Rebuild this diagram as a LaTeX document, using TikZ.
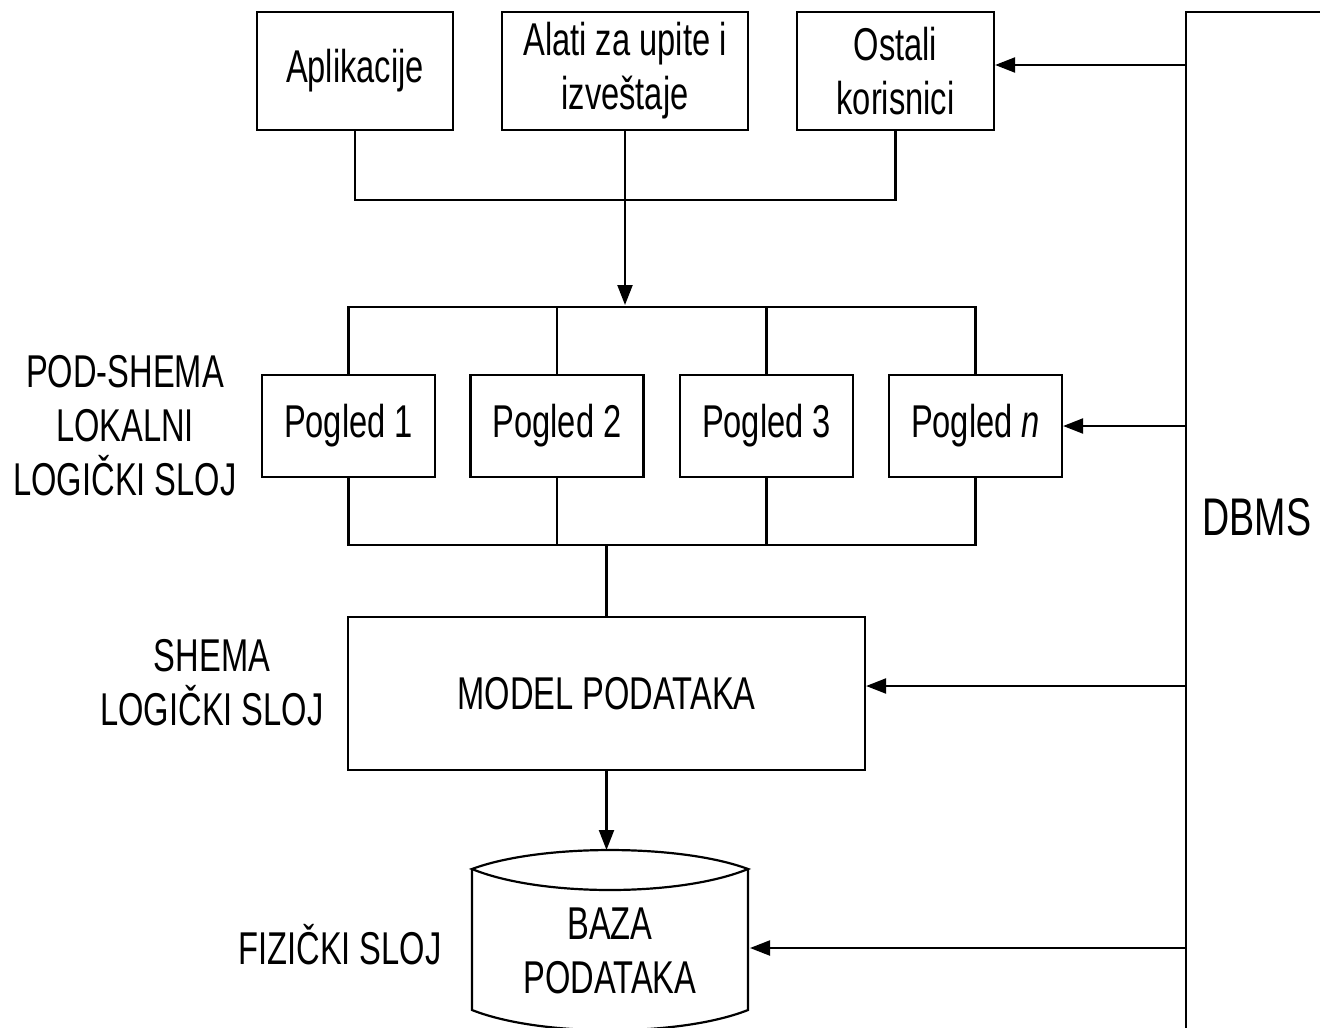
\documentclass[tikz,border=0pt]{standalone}
\usepackage{fontspec}
\setmainfont{Liberation Sans}[FakeStretch=0.71]
\usetikzlibrary{arrows.meta}
\begin{document}
\begin{tikzpicture}[x=1pt,y=-1pt,
  font=\fontsize{46}{54}\selectfont,
  line width=2.2pt,
  box/.style={draw, rectangle, inner sep=0pt, align=center},
  arr/.style={-{Triangle[length=20pt,width=15pt]}},
  lbl/.style={align=center, inner sep=0pt}]
\useasboundingbox (0,0) rectangle (1320,1028);
\clip (0,0) rectangle (1320,1028);

% top boxes
\node[box, minimum width=196pt, minimum height=118pt] (apl) at (355,71) {Aplikacije};
\node[box, minimum width=246pt, minimum height=118pt] (alati) at (625,71) {Alati za upite i\\izveštaje};
\node[box, minimum width=197pt, minimum height=118pt] (ost) at (895.5,71) {Ostali\\korisnici};

% views
\node[box, minimum width=173pt, minimum height=102pt] (p1) at (348.5,426) {Pogled 1};
\node[box, minimum width=173pt, minimum height=102pt] (p2) at (557,426) {Pogled 2};
\node[box, minimum width=173pt, minimum height=102pt] (p3) at (766.5,426) {Pogled 3};
\node[box, minimum width=173pt, minimum height=102pt] (pn) at (975.5,426) {Pogled \textit{n}};

% model
\node[box, minimum width=517pt, minimum height=153pt] (model) at (606.5,693.5) {MODEL PODATAKA};

% database (cylinder)
\node[lbl] (baza) at (610,951) {BAZA\\PODATAKA};
\draw (472,869) .. controls (540,843.7) and (680,843.7) .. (748,869)
      .. controls (680,897) and (540,897) .. (472,869) -- cycle;
\draw (472,869) -- (472,1010) .. controls (540,1037) and (680,1037) .. (748,1010) -- (748,869);

% DBMS
\draw (1186,1040) -- (1186,12) -- (1330,12);
\node[lbl, font=\fontsize{53}{60}\selectfont] (dbms) at (1257,517) {DBMS};
\coordinate (d1) at (1186,65);
\coordinate (d2) at (1186,426);
\coordinate (d3) at (1186,686);
\coordinate (d4) at (1186,948);
\draw[arr] (d1) -- (d1 -| ost.east);
\draw[arr] (d2) -- (d2 -| pn.east);
\draw[arr] (d3) -- (d3 -| model.east);
\draw[arr] (d4) -- (750,948);

% layer labels
\node[lbl] (l1) at (125,426) {POD-SHEMA\\LOKALNI\\LOGIČKI SLOJ};
\node[lbl] (l2) at (212,683) {SHEMA\\LOGIČKI SLOJ};
\node[lbl] (l3) at (340,945) {FIZIČKI SLOJ};

% top connectors
\coordinate (topbus) at (625,200);
\draw (apl.south) |- (topbus) -| (ost.south);
\draw (alati.south) -- (topbus);
\draw[arr] (topbus) -- (625,305);

% view buses
\coordinate (vbus) at (557,307);
\coordinate (bbus) at (557,545);
\draw (p1.north) |- (vbus) -| (pn.north);
\draw (p2.north) -- (vbus);
\draw (p3.north) -- (p3.north |- vbus);
\draw (p1.south) |- (bbus) -| (pn.south);
\draw (p2.south) -- (bbus);
\draw (p3.south) -- (p3.south |- bbus);
\draw (model.north) -- (model.north |- bbus);

% model to database
\draw[arr] (model.south) -- (606.5,850);
\end{tikzpicture}
\end{document}
